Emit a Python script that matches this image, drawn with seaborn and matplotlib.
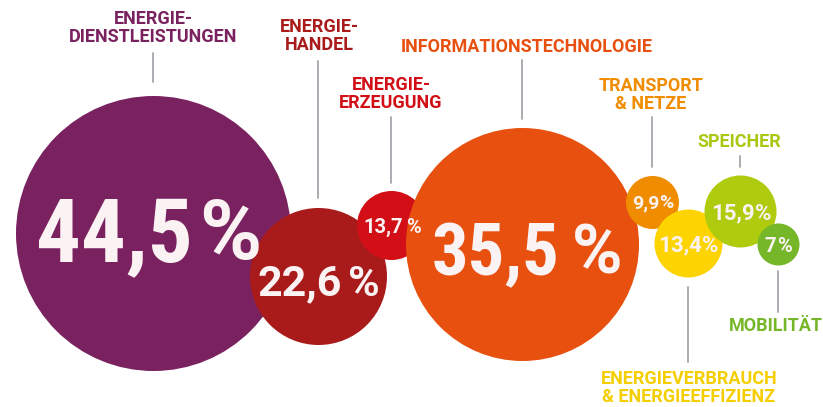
import matplotlib
matplotlib.use("Agg")
import matplotlib.pyplot as plt
from matplotlib import font_manager
import pandas as pd
import seaborn as sns

# data
sectors = ["ENERGIE-\nDIENSTLEISTUNGEN", "ENERGIE-\nHANDEL", "ENERGIE-\nERZEUGUNG",
           "INFORMATIONSTECHNOLOGIE", "TRANSPORT\n& NETZE",
           "ENERGIEVERBRAUCH\n& ENERGIEEFFIZIENZ", "SPEICHER", "MOBILITÄT"]
shares = [44.5, 22.6, 13.7, 35.5, 9.9, 13.4, 15.9, 7.0]
share_numbers = ["44,5", "22,6", "13,7", "35,5", "9,9", "13,4", "15,9", "7"]

# styling / layout (pixel space of the 823x407 canvas)
colors = ["#7A2260", "#A91B1B", "#D20F17", "#E8500F", "#F08C00", "#FDD300", "#AFCB0E", "#76B72A"]
label_colors = ["#7A2260", "#A91B1B", "#D20F17", "#E8500F", "#F08C00", "#F5CE00", "#A9C812", "#76B72A"]
bubble_x = [153, 318.5, 391, 522, 652, 688, 740, 778]
bubble_y = [232.5, 275.5, 224.5, 243.5, 201.5, 243, 211, 244]
bubble_r = [137.5, 68.5, 34.5, 116.5, 26.5, 34, 36, 21]
value_size = [64, 31, 14.5, 52, 14, 16, 16, 14.5]
value_condensed = [True, False, False, True, False, False, False, False]
value_gap = [6, 6, 3, 12, 0, 0, 0, 1]       # px between number and %
value_dx = [-4, 0, 1, 5, 1, 0, 1, 0]
value_dy = [-4, 4, 1, 5, 0, 0, 0, 1]
label_x = [153, 319, 391, 527, 651, 689, 739, 776]
label_y = [28, 36, 94, 47, 95, 388, 142, 326]
leader_y = [(53, 82), (61, 198), (117, 183), (60, 119), (117, 167), (287, 362), (156, 167), (271, 312)]

W, H, DPI = 823, 407, 100

sns.set_theme(style="white")
plt.rcParams["font.family"] = ["Roboto", "DejaVu Sans"]

available = {f.name for f in font_manager.fontManager.ttflist}
cond_font = "Roboto"
for cand in ["Roboto Condensed", "Liberation Sans Narrow", "Open Sans Condensed"]:
    if cand in available:
        cond_font = cand
        break

fig = plt.figure(figsize=(W / DPI, H / DPI), dpi=DPI)
ax = fig.add_axes([0, 0, 1, 1])
ax.set_xlim(0, W)
ax.set_ylim(H, 0)
ax.set_axis_off()

df = pd.DataFrame({"sector": sectors, "share": shares, "x": bubble_x, "y": bubble_y, "r": bubble_r})
# marker area in pt^2 so the circle diameter equals 2r pixels
df["s"] = (2 * df["r"] * 72 / DPI) ** 2

for i, row in df.iterrows():
    sns.scatterplot(x=[row["x"]], y=[row["y"]], s=row["s"], color=colors[i],
                    linewidth=0, ax=ax, legend=False, zorder=2 + i)

pairs = []
for i in range(len(sectors)):
    cy = bubble_y[i] + value_dy[i]
    fam = cond_font if value_condensed[i] else "Roboto"
    pct_size = value_size[i] * (0.95 if value_condensed[i] else 1.0)
    t_num = ax.text(0, cy, share_numbers[i], color="#FAF2F3", family=fam,
                    fontsize=value_size[i], fontweight="bold", ha="left",
                    va="center_baseline", zorder=20)
    t_pct = ax.text(0, cy, "%", color="#FAF2F3", family="Roboto",
                    fontsize=pct_size, fontweight="bold", ha="left",
                    va="center_baseline", zorder=20)
    pairs.append((t_num, t_pct))
    ax.text(label_x[i], label_y[i], sectors[i], color=label_colors[i], fontsize=13,
            fontweight="bold", ha="center", va="center", linespacing=1.05, zorder=20)
    y0, y1 = leader_y[i]
    ax.plot([bubble_x[i], bubble_x[i]], [y0, y1], color="#A2A7AB", lw=1.3, zorder=1)

# centre "number + gap + %" groups on their bubbles
fig.canvas.draw()
renderer = fig.canvas.get_renderer()
for i, (t_num, t_pct) in enumerate(pairs):
    w_num = t_num.get_window_extent(renderer).width
    w_pct = t_pct.get_window_extent(renderer).width
    total = w_num + value_gap[i] + w_pct
    x0 = bubble_x[i] + value_dx[i] - total / 2
    t_num.set_x(x0)
    t_pct.set_x(x0 + w_num + value_gap[i])

fig.savefig("out.png", dpi=DPI, facecolor="white")
